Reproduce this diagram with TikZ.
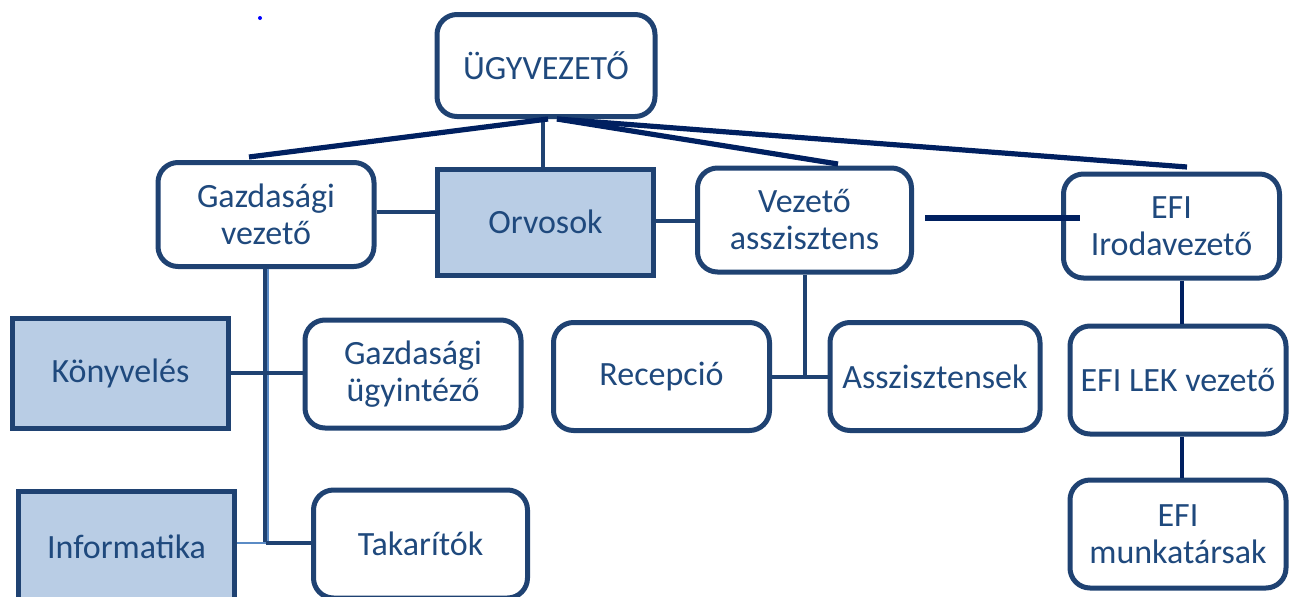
\documentclass[tikz,border=0pt]{standalone}
\usepackage{fontspec}
\setmainfont{Carlito}
\definecolor{strk}{HTML}{1F4272}
\definecolor{txt}{HTML}{1F497D}
\definecolor{navy}{HTML}{002060}
\definecolor{fillb}{HTML}{B9CDE5}
\definecolor{lightln}{HTML}{5B8BC5}
\begin{document}
\begin{tikzpicture}[x=0.5pt,y=-0.5pt,
  box/.style={draw=strk, line width=2.5pt, rounded corners=10pt, fill=white, align=center, text=txt,
    font=\fontsize{17}{18.5}\selectfont, inner sep=0pt},
  sqbox/.style={box, rounded corners=0pt, fill=fillb},
  conn/.style={draw=strk, line width=2.3pt},
  nav/.style={draw=navy, line width=2.6pt},
  thin/.style={draw=lightln, line width=0.8pt}]
\useasboundingbox (0,0) rectangle (1297,596);
\fill[blue] (260,18) circle (2);
% nodes
\node[box, minimum width=109pt, minimum height=51pt] (top) at (546,65.5) {ÜGYVEZETŐ};
\node[box, minimum width=108pt, minimum height=52pt] (gv) at (266,214.5) {Gazdasági\\vezető};
\node[sqbox, minimum width=108pt, minimum height=53pt] (orv) at (545.5,222) {Orvosok};
\node[box, minimum width=107pt, minimum height=52pt] (va) at (804.5,220) {Vezető\\asszisztens};
\node[box, minimum width=108pt, minimum height=52pt] (efi) at (1171.5,226) {EFI\\Irodavezető};
\node[sqbox, minimum width=108pt, minimum height=55pt] (konyv) at (120.5,373.5) {Könyvelés};
\node[box, minimum width=108pt, minimum height=54pt] (gu) at (413,374) {Gazdasági\\ügyintéző};
\node[box, minimum width=108pt, minimum height=54pt] (rec) at (661.5,376.5) {Recepció};
\node[box, minimum width=105pt, minimum height=54pt] (asz) at (935,376.5) {Asszisztensek};
\node[box, minimum width=108pt, minimum height=54pt] (lek) at (1178,380) {EFI LEK vezető};
\node[sqbox, minimum width=108pt, minimum height=55pt] (inf) at (126.5,546.5) {Informatika};
\node[box, minimum width=107pt, minimum height=54pt] (tak) at (420.5,544) {Takarítók};
\node[box, minimum width=108pt, minimum height=54pt] (efim) at (1178,534) {EFI\\munkatársak};
% coordinates
\coordinate (tl) at (548,119);
\coordinate (tr) at (557,119);
\coordinate (gvt) at (249,157);
\coordinate (vat) at (838,164);
\coordinate (efit) at (1187,167);
\coordinate (vaR) at (925,218);
\coordinate (efiL) at (1080,218);
\coordinate (gvj) at (266,543);
\coordinate (vaj) at (805,377);
% connectors
\draw[conn] (top.south -| 543,0) -- (orv.north -| 543,0);
\draw[nav] (tl) -- (gvt);
\draw[nav] (tr) -- (vat);
\draw[nav] (tr) -- (efit);
\draw[conn] (gv.east |- 0,212) -- (orv.west |- 0,212);
\draw[conn] (orv.east |- 0,221) -- (va.west |- 0,221);
\draw[nav] (vaR) -- (efiL);
% gazdasagi branch
\draw[strk, line width=1.6pt] (gv.south -| 265,0) -- (265,543);
\draw[lightln, line width=1pt] (gv.south -| 267.5,0) -- (267.5,543);
\draw[conn] (konyv.east |- 0,373) -- (gu.west |- 0,373);
\draw[conn] (gvj) -- (tak.west |- gvj);
\draw[thin] (inf.east |- gvj) -- (gvj);
% vezeto asszisztens branch
\draw[conn] (va.south -| vaj) -- (vaj);
\draw[conn] (rec.east |- vaj) -- (asz.west |- vaj);
% EFI branch
\draw[draw=navy, line width=2.3pt] (efi.south -| 1182,0) -- (lek.north -| 1182,0);
\draw[draw=navy, line width=2.3pt] (lek.south -| 1182,0) -- (efim.north -| 1182,0);
\end{tikzpicture}
\end{document}
